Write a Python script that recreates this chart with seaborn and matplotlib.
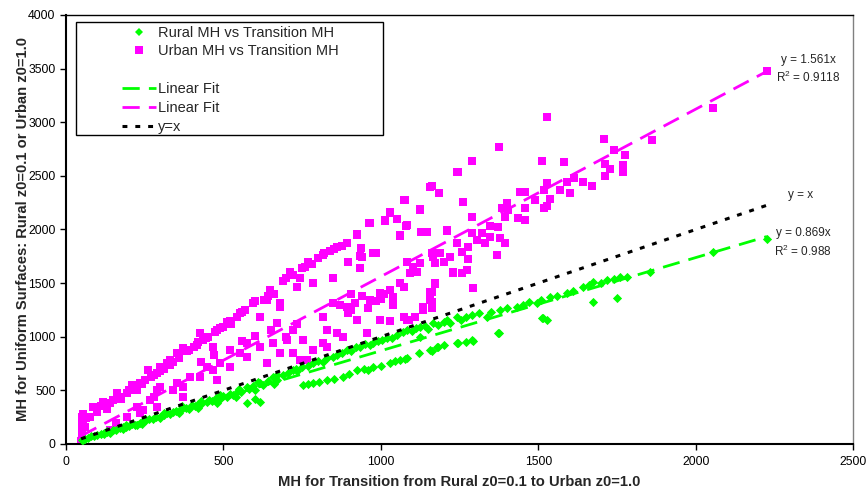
import matplotlib
matplotlib.use("Agg")
import matplotlib.pyplot as plt
import seaborn as sns
import numpy as np
import pandas as pd
from matplotlib.lines import Line2D
from matplotlib.patches import Rectangle

# ---------------- data ----------------
rural_x = [50, 55, 60, 70, 80, 90, 100, 110, 120, 130, 140, 150, 160, 170, 180, 190, 200, 210,
           220, 225, 235, 245, 255, 265, 275, 285, 299, 310, 320, 330, 340, 350, 360, 373, 380,
           390, 400, 410, 420, 430, 447, 455, 465, 475, 490, 500, 510, 520, 530, 545, 555, 574,
           580, 595, 616, 625, 640, 659, 670, 690, 705, 722, 735, 750, 770, 786, 800, 815, 830,
           849, 860, 875, 892, 905, 920, 934, 950, 965, 976, 990, 1005, 1018, 1035, 1050, 1070,
           1082, 1100, 1110, 1124, 1125, 1140, 1150, 1167, 1180, 1200, 1209, 1220, 1241, 1255,
           1271, 1290, 1310, 1336, 1350, 1379, 1400, 1432, 1450, 1470, 1495, 1510, 1537, 1560,
           1590, 1610, 1643, 1660, 1675, 1700, 1717, 1740, 1760, 1781, 1855, 2054, 2226,
           # band edges
           120, 180, 240, 300, 360, 420, 480, 540, 600, 660,
           130, 190, 250, 310, 370, 430, 490, 550, 610, 670, 730,
           # lower branch
           574, 600, 616, 754, 770, 786, 805, 828, 850, 881, 900, 923, 945, 960, 976, 1000, 1029,
           1045, 1061, 1077, 1082, 1120, 1156, 1162, 1177, 1182, 1200, 1241, 1246, 1270, 1289,
           1294, 1373, 1374, 1511, 1516, 1527, 1673, 1749]
rural_y = [40, 37, 50, 55, 70, 75, 85, 95, 100, 110, 100, 130, 135, 150, 155, 160, 170, 185,
           180, 177, 200, 215, 220, 230, 235, 250, 255, 270, 285, 280, 300, 310, 305, 333, 340,
           330, 360, 355, 375, 370, 394, 410, 400, 430, 420, 450, 441, 470, 460, 490, 480, 534,
           510, 540, 565, 550, 590, 628, 600, 640, 660, 690, 680, 720, 730, 752, 770, 760, 800,
           814, 830, 850, 876, 870, 900, 907, 930, 920, 938, 960, 970, 985, 990, 1020, 1040,
           1063, 1050, 1080, 1001, 1094, 1100, 1070, 1125, 1110, 1140, 1156, 1125, 1187, 1160,
           1187, 1200, 1220, 1187, 1230, 1249, 1270, 1280, 1300, 1320, 1312, 1340, 1374, 1380,
           1405, 1430, 1467, 1480, 1514, 1500, 1529, 1540, 1560, 1560, 1607, 1787, 1911,
           # band edges
           90, 140, 190, 240, 290, 340, 380, 440, 500, 560,
           125, 175, 235, 290, 350, 400, 460, 510, 580, 640, 700,
           # lower branch
           379, 420, 390, 550, 560, 565, 580, 597, 610, 628, 650, 690, 700, 690, 721, 730, 752,
           770, 783, 790, 799, 850, 876, 867, 907, 907, 920, 938, 938, 950, 970,
           964, 1038, 1032, 1172, 1172, 1156, 1327, 1358]

urban_x = [48, 50, 50, 52, 50, 55, 50, 55, 60, 65,
           76, 87, 100, 118, 130, 150, 161, 175, 193, 209, 225, 235, 250, 262, 278, 288, 299,
           310, 320, 330, 341, 352, 360, 373, 385, 405, 420, 426, 436, 450, 468, 474, 490, 500,
           510, 525, 542, 553, 570, 595, 616, 630, 638, 648, 660, 669, 680, 680, 700, 710, 733,
           743, 759, 770, 786, 800, 817, 840, 849, 860, 875, 892, 897, 923, 925, 934, 938, 935,
           939, 966, 963, 976, 983, 1013, 1013, 1029, 1029, 1050, 1061, 1061, 1075, 1077, 1081,
           1082, 1124, 1125, 1127, 1145, 1156, 1162, 1183, 1186, 1209, 1209, 1241, 1246, 1262,
           1289, 1289, 1289, 1374, 1527, 1511, 1582, 1709, 1739, 1776, 1770, 1728, 1712, 1770,
           1712, 1670, 1643, 1613, 1592, 1569, 1601, 1527, 1517, 1537, 1527, 1517, 1490, 1458,
           1443, 1458, 1458, 1437, 1405, 1400, 1384, 1395, 1373, 1347, 1379, 1395, 1368, 1347,
           1321, 1331, 1289, 1305, 1278, 1257, 1278, 1273, 1257, 1230, 1199, 1172, 1162, 1082,
           1115, 1060, 1172, 1162, 1162, 1162, 1135, 1109, 1082, 1294, 1860, 2054, 2226,
           # upper band fill
           110, 140, 170, 200, 240, 270, 300, 330, 360, 390, 415, 445, 480, 520, 560, 600, 640,
           690, 720, 750, 780, 820, 850,
           # lower band
           140, 160, 193, 225, 235, 246, 267, 278, 288, 288, 299, 341, 352, 373, 373, 394, 426,
           447, 468, 479, 489, 521, 553, 574, 574, 616, 638, 659, 680, 701, 722, 722, 743, 754,
           765, 786, 817, 828, 828, 817, 849, 860, 881, 892, 897, 918, 923, 955, 966, 997, 997,
           1029, 1029, 1040, 1072, 1072, 1088, 1093, 1103, 1109, 1125, 1135, 1156, 1156, 1167,
           1172, 1188, 1219, 1230, 1241,
           # dense middle cluster
           430, 470, 520, 560, 600, 650, 700, 735, 870, 905, 940, 985, 1010, 1040, 905, 960, 1000]
urban_y = [30, 60, 100, 140, 180, 220, 255, 280, 160, 240,
           255, 348, 300, 394, 330, 410, 472, 420, 472, 550, 500, 565, 600, 690, 640, 660, 721,
           700, 752, 783, 760, 845, 800, 892, 870, 907, 950, 1032, 970, 1000, 907, 1047, 1080, 1094,
           1140, 1120, 1187, 1218, 1250, 1312, 1187, 1340, 1343, 1436, 1400, 1125, 1312, 1280, 1550, 1600, 1467,
           1545, 1653, 1700, 1498, 1730, 1762, 1800, 1545, 1840, 1850, 1871, 1700, 1949, 1958, 1638, 1824, 1756,
           1746, 2058, 2058, 1778, 1781, 2089, 2082, 2151, 2160, 2095, 1949, 1942, 2275, 2275, 2033,
           2042, 2188, 2182, 1980, 1980, 2399, 2406, 2338, 2338, 1995, 1989, 2539, 2533, 2253,
           2639, 2642, 2119, 2766, 3046, 2642, 2629, 2841, 2741, 2695, 2600, 2561, 2499, 2540,
           2615, 2406, 2446, 2477, 2446, 2368, 2337, 2431, 2368, 2281, 2219, 2197, 2275, 2353,
           2353, 2197, 2089, 2104, 2182, 2244, 2197, 2120, 2026, 2033, 1918, 1871, 1762, 1933,
           1964, 1871, 1964, 1902, 1840, 1793, 1722, 1622, 1591, 1607, 1700, 1685, 1778, 1700,
           1607, 1498, 1492, 1414, 1327, 1265, 1250, 1187, 1156, 1457, 2834, 3136, 3478,
           # upper band fill
           350, 380, 440, 500, 560, 620, 680, 740, 820, 880, 920, 990, 1060, 1150, 1230, 1330, 1380,
           1520, 1580, 1640, 1680, 1780, 1820,
           # lower band
           130, 200, 255, 348, 286, 317, 410, 441, 348, 503, 534, 503, 565, 441, 534, 628, 628,
           721, 690, 597, 752, 721, 845, 814, 938, 907, 752, 938, 845, 970, 1063, 845, 783, 970,
           783, 876, 938, 907, 1063, 1187, 1312, 1032, 1001, 1280, 1218, 1312, 1156, 1032, 1343, 1405, 1156,
           1436, 1142, 1374, 1467, 1187, 1156, 1592, 1653, 1187, 1684, 1280, 1343, 1420, 1747,
           1498, 1778, 1747, 1591, 1871,
           # dense middle cluster
           760, 830, 880, 960, 1010, 1060, 1000, 1120, 1300, 1250, 1380, 1330, 1400, 1300, 1400, 1270, 1350]

rural_slope = 0.869
urban_slope = 1.561
rural_label = "Rural MH vs Transition MH"
urban_label = "Urban MH vs Transition MH"
x_ticks = [0, 500, 1000, 1500, 2000, 2500]
y_ticks = [0, 500, 1000, 1500, 2000, 2500, 3000, 3500, 4000]

rural_df = pd.DataFrame({"x": rural_x, "y": rural_y})
urban_df = pd.DataFrame({"x": urban_x, "y": urban_y})

# ---------------- style ----------------
sns.set_style("white")
plt.rcParams["font.family"] = ["Liberation Sans", "DejaVu Sans"]
plt.rcParams["mathtext.fontset"] = "custom"
plt.rcParams["mathtext.rm"] = "Liberation Sans"

GREEN = "#00FF00"
MAGENTA = "#FF00FF"

fig = plt.figure(figsize=(8.68, 4.92), dpi=100)
ax = fig.add_axes([0.076, 0.0976, 0.907, 0.872])

sns.scatterplot(data=rural_df, x="x", y="y", ax=ax, marker="D", s=22, color=GREEN,
                edgecolor=GREEN, linewidth=0, zorder=3)
sns.scatterplot(data=urban_df, x="x", y="y", ax=ax, marker="s", s=34, color=MAGENTA,
                edgecolor=MAGENTA, linewidth=0, zorder=2)

# fit lines and y=x over the data range
xmin = min(min(rural_x), min(urban_x))
xmax = max(max(rural_x), max(urban_x))
xl = np.array([xmin, xmax], dtype=float)
FIT_DASH = (6.2, 3.3)
ONE_DASH = (1.6, 2.6)
ax.plot(xl, urban_slope * xl, color=MAGENTA, lw=2.0, dashes=FIT_DASH, zorder=4)
ax.plot(xl, rural_slope * xl, color=GREEN, lw=2.0, dashes=FIT_DASH, zorder=4)
ax.plot(xl, xl, color="black", lw=2.2, dashes=ONE_DASH, zorder=4)

ax.set_xlim(0, 2500)
ax.set_ylim(0, 4000)
ax.set_xticks(x_ticks)
ax.set_yticks(y_ticks)
ax.tick_params(axis="both", which="major", direction="out", length=4, width=1,
               labelsize=8.8, colors="black", left=True, bottom=True)
ax.tick_params(axis="x", pad=5)
ax.tick_params(axis="y", pad=3.5)
for sp in ax.spines.values():
    sp.set_visible(True)
    sp.set_color("black")
    sp.set_linewidth(1.0)
ax.spines["left"].set_linewidth(1.5)
ax.spines["bottom"].set_linewidth(1.5)
ax.spines["right"].set_color("#808080")

ax.set_xlabel("MH for Transition from Rural z0=0.1 to Urban z0=1.0", fontsize=10.6,
              fontweight="bold", labelpad=5)
ax.set_ylabel("MH for Uniform Surfaces: Rural z0=0.1 or Urban z0=1.0", fontsize=10.6,
              fontweight="bold", labelpad=-1)

# annotations
ax.text(2357, 3580, "y = 1.561x", fontsize=8.5, ha="center", va="center")
ax.text(2357, 3422, "R$^2$ = 0.9118", fontsize=8.5, ha="center", va="center")
ax.text(2332, 2322, "y = x", fontsize=8.5, ha="center", va="center")
ax.text(2341, 1967, "y = 0.869x", fontsize=8.5, ha="center", va="center")
ax.text(2341, 1800, "R$^2$ = 0.988", fontsize=8.5, ha="center", va="center")

# legend
handles = [
    Line2D([], [], marker="D", color=GREEN, linestyle="none", markersize=4.5, markeredgewidth=0),
    Line2D([], [], marker="s", color=MAGENTA, linestyle="none", markersize=5.5, markeredgewidth=0),
    Line2D([], [], linestyle="none"),
    Line2D([], [], color=GREEN, lw=2.0, dashes=FIT_DASH),
    Line2D([], [], color=MAGENTA, lw=2.0, dashes=FIT_DASH),
    Line2D([], [], color="black", lw=2.2, dashes=ONE_DASH),
]
labels = [rural_label, urban_label, " ", "Linear Fit", "Linear Fit", "y=x"]
leg = ax.legend(handles, labels, loc="upper left", bbox_to_anchor=(0.071, 0.975),
                frameon=False, fontsize=10.5, handlelength=2.35, handletextpad=0.15,
                labelspacing=0.33, borderpad=0, borderaxespad=0)
rect = Rectangle((0.0127, 0.720), 0.3903, 0.2637, transform=ax.transAxes, fill=True,
                 facecolor="white", edgecolor="black", lw=1.0, zorder=5)
ax.add_patch(rect)
leg.set_zorder(6)

fig.savefig("out.png", dpi=100, facecolor="white")
